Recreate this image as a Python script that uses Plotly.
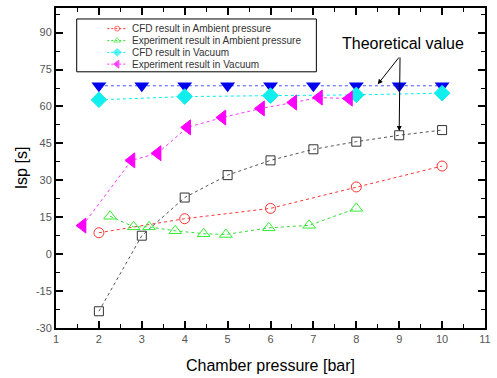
import plotly.graph_objects as go

# ---- data ----
cfd_amb_x = [2, 4, 6, 8, 10]
cfd_amb_y = [8.7, 14.4, 18.6, 27.3, 35.8]

exp_amb_x = [2.26, 2.81, 3.17, 3.78, 4.44, 4.96, 5.96, 6.90, 8.0]
exp_amb_y = [15.4, 11.1, 11.1, 9.5, 8.3, 8.0, 10.7, 11.7, 18.6]

cfd_vac_x = [2, 4, 6, 8, 10]
cfd_vac_y = [62.7, 64.0, 64.4, 64.7, 65.4]

exp_vac_x = [1.62, 2.76, 3.37, 4.06, 4.88, 5.78, 6.53, 7.13, 7.83]
exp_vac_y = [11.6, 38.1, 41.0, 51.5, 55.5, 59.2, 61.6, 63.6, 63.2]

theory_x = [2, 3, 4, 5, 6, 7, 8, 9, 10]
theory_y = [68.4, 68.4, 68.4, 68.4, 68.4, 68.4, 68.4, 68.4, 68.4]

other_x = [2, 3, 4, 5, 6, 7, 8, 9, 10]
other_y = [-23.2, 7.5, 23.0, 32.1, 38.1, 42.6, 45.7, 48.3, 50.4]

x_ticks = [1, 2, 3, 4, 5, 6, 7, 8, 9, 10, 11]
y_ticks = [-30, -15, 0, 15, 30, 45, 60, 75, 90]

legend_names = ["CFD result in Ambient pressure",
                "Experiment result in Ambient pressure",
                "CFD result in Vacuum",
                "Experiment result in Vacuum"]

FONT = "Arial, Liberation Sans, sans-serif"

styles = [
    dict(line=dict(color="#ff3333", width=1, dash="dot"),
         symbol="circle-open", color="#ff3333", size=10, lsize=5),
    dict(line=dict(color="#33dd33", width=1, dash="dot"),
         symbol="triangle-up-open", color="#33ee33", size=11, lsize=6),
    dict(line=dict(color="#00eeee", width=1, dash="dot"),
         symbol="diamond", color="#11eeee", size=12, lsize=6),
    dict(line=dict(color="#ff33ff", width=1, dash="dot"),
         symbol="triangle-left", color="#ff00ff", size=13, lsize=7),
]
series = [(cfd_amb_x, cfd_amb_y), (exp_amb_x, exp_amb_y),
          (cfd_vac_x, cfd_vac_y), (exp_vac_x, exp_vac_y)]

fig = go.Figure()

fig.add_trace(go.Scatter(x=other_x, y=other_y, mode="lines+markers", showlegend=False,
                         line=dict(color="#555555", width=1, dash="dot"),
                         marker=dict(symbol="square-open", size=9, color="#333333", line=dict(width=1))))
fig.add_trace(go.Scatter(x=theory_x, y=theory_y, mode="lines+markers", showlegend=False,
                         line=dict(color="#4455ff", width=1, dash="dot"),
                         marker=dict(symbol="triangle-down", size=13, color="#0000ee")))
for (sx, sy), st, nm in zip(series, styles, legend_names):
    fig.add_trace(go.Scatter(x=sx, y=sy, mode="lines+markers", name=nm, showlegend=False,
                             line=st["line"],
                             marker=dict(symbol=st["symbol"], size=st["size"], color=st["color"],
                                         line=dict(width=1, color=st["color"]))))

# ---- custom compact legend on an overlay pixel-like axis ----
LX0, LX1, LY0, LY1 = 77, 320, 18, 71
row_y = [27.7, 39.7, 51.5, 63.3]
for ry, st, nm in zip(row_y, styles, legend_names):
    fig.add_trace(go.Scatter(x=[108, 118, 128], y=[ry, ry, ry], xaxis="x2", yaxis="y2",
                             mode="lines+markers", showlegend=False, hoverinfo="skip",
                             line=dict(color=st["line"]["color"], width=1, dash="2px,2px"),
                             marker=dict(symbol=st["symbol"], size=[0, st["lsize"], 0], color=st["color"],
                                         line=dict(width=1, color=st["color"]))))
    fig.add_annotation(x=131, y=ry, xref="x2", yref="y2", text=nm, showarrow=False,
                       xanchor="left", yanchor="middle",
                       font=dict(family=FONT, size=10, color="#333333"))
fig.add_shape(type="rect", xref="x2", yref="y2", x0=LX0, x1=LX1, y0=LY0, y1=LY1,
              line=dict(color="#000000", width=1), fillcolor="white", layer="below")

# annotations for theoretical value
fig.add_annotation(x=9.1, y=85.5, text="Theoretical value", showarrow=False,
                   font=dict(family=FONT, size=16, color="#000000"))
fig.add_annotation(x=8.5, y=69.0, ax=9.02, ay=80.5, xref="x", yref="y", axref="x", ayref="y",
                   text="", showarrow=True, arrowhead=2, arrowsize=1, arrowwidth=1, arrowcolor="#000000")
fig.add_annotation(x=9.0, y=50.0, ax=9.02, ay=80.5, xref="x", yref="y", axref="x", ayref="y",
                   text="", showarrow=True, arrowhead=2, arrowsize=1, arrowwidth=1, arrowcolor="#000000")

axis_common = dict(showline=True, linecolor="#000000", linewidth=2, mirror="ticks",
                   ticks="inside", ticklen=7, tickwidth=1.5, tickcolor="#000000",
                   showgrid=False, zeroline=False,
                   tickfont=dict(family=FONT, size=11, color="#555555"))

fig.update_layout(
    xaxis=dict(range=[1, 11], tickvals=x_ticks, ticktext=[str(v) for v in x_ticks],
               minor=dict(ticks="inside", ticklen=4, tickwidth=1, tickcolor="#000000", dtick=0.5),
               title=dict(text="Chamber pressure [bar]", standoff=16,
                          font=dict(family=FONT, size=16, color="#000000")),
               **axis_common),
    yaxis=dict(range=[-30, 100], tickvals=y_ticks, ticktext=[str(v) for v in y_ticks],
               minor=dict(ticks="inside", ticklen=4, tickwidth=1, tickcolor="#000000", dtick=7.5, tick0=-30),
               title=dict(text="Isp [s]", standoff=4,
                          font=dict(family=FONT, size=16, color="#000000")),
               **axis_common),
    xaxis2=dict(overlaying="x", range=[56, 491], visible=False, fixedrange=True),
    yaxis2=dict(overlaying="y", range=[328, 7], visible=False, fixedrange=True),
    width=497, height=378,
    margin=dict(l=56, r=6, t=7, b=50),
    paper_bgcolor="white", plot_bgcolor="white",
    showlegend=False,
)

fig.write_html("out.html")
